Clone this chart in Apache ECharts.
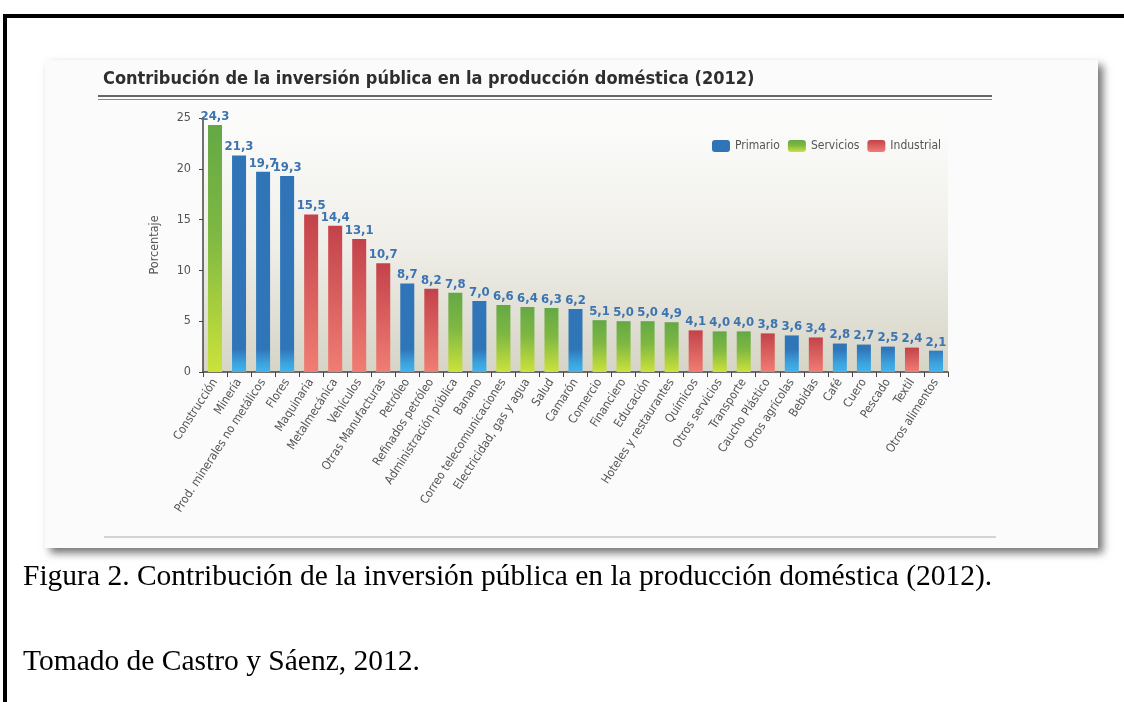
<!DOCTYPE html>
<html>
<head>
<meta charset="utf-8">
<script src="https://cdn.jsdelivr.net/npm/echarts@6/dist/echarts.min.js"></script>
<style>
html,body{margin:0;padding:0;background:#ffffff;}
#c{width:1124px;height:702px;}
</style>
</head>
<body>
<div id="c"></div>
<script>
var categories = ["Construcción","Minería","Prod. minerales no metálicos","Flores","Maquinaria","Metalmecánica","Vehículos","Otras Manufacturas","Petróleo","Refinados petróleo","Administración pública","Banano","Correo telecomunicaciones","Electricidad, gas y agua","Salud","Camarón","Comercio","Financiero","Educación","Hoteles y restaurantes","Químicos","Otros servicios","Transporte","Caucho Plástico","Otros agrícolas","Bebidas","Café","Cuero","Pescado","Textil","Otros alimentos"];
var values = [24.3,21.3,19.7,19.3,15.5,14.4,13.1,10.7,8.7,8.2,7.8,7.0,6.6,6.4,6.3,6.2,5.1,5.0,5.0,4.9,4.1,4.0,4.0,3.8,3.6,3.4,2.8,2.7,2.5,2.4,2.1];
var sectors = ["Servicios","Primario","Primario","Primario","Industrial","Industrial","Industrial","Industrial","Primario","Industrial","Servicios","Primario","Servicios","Servicios","Servicios","Primario","Servicios","Servicios","Servicios","Servicios","Industrial","Servicios","Servicios","Industrial","Primario","Industrial","Primario","Primario","Primario","Industrial","Primario"];
var sectorNames = ["Primario","Servicios","Industrial"];
var yTicks = [0,5,10,15,20,25];

var narrow = "'DejaVu Sans Condensed',sans-serif";
var GT = 118, GB = 372;

var fills = {
  Primario: {type:'linear',x:0,y:GT,x2:0,y2:GB,global:true,colorStops:[{offset:0,color:'#2f74b7'},{offset:0.91,color:'#2f76b9'},{offset:0.965,color:'#3ba2de'},{offset:1,color:'#45b3ec'}]},
  Servicios: {type:'linear',x:0,y:0,x2:0,y2:1,colorStops:[{offset:0,color:'#64a845'},{offset:0.45,color:'#7fb842'},{offset:1,color:'#cbe23a'}]},
  Industrial: {type:'linear',x:0,y:0,x2:0,y2:1,colorStops:[{offset:0,color:'#c3424a'},{offset:1,color:'#f07d73'}]}
};

var series = sectorNames.map(function(s){
  return {
    name: s,
    type: 'bar',
    stack: 'all',
    barWidth: 14,
    itemStyle: {color: fills[s]},
    label: {
      show: true, position: 'top', distance: 2,
      color: '#3b74b1', fontWeight: 'bold', fontSize: 13, fontFamily: narrow,
      formatter: function(p){ return p.value.toFixed(1).replace('.', ','); }
    },
    data: values.map(function(v,i){ return sectors[i] === s ? v : '-'; })
  };
});

var serif = "'Liberation Serif','Times New Roman',serif";
var chart = echarts.init(document.getElementById('c'));
chart.setOption({
  animation: false,
  backgroundColor: '#ffffff',
  graphic: [
    {type:'rect', z:-10, shape:{x:45,y:60,width:1053,height:488}, style:{fill:'#fbfbfb', shadowBlur:8, shadowOffsetX:5, shadowOffsetY:5, shadowColor:'rgba(0,0,0,0.55)'}},
    {type:'line', z:-5, shape:{x1:98,y1:96,x2:992,y2:96}, style:{stroke:'#666', lineWidth:2}},
    {type:'line', z:-5, shape:{x1:98,y1:99.5,x2:992,y2:99.5}, style:{stroke:'#888', lineWidth:1}},
    {type:'line', z:-5, shape:{x1:104,y1:537,x2:996,y2:537}, style:{stroke:'#d4d4d4', lineWidth:2}},
    {type:'text', x:103, y:70, style:{text:'Contribución de la inversión pública en la producción doméstica (2012)', fill:'#2e2e2e', font:"bold 18px 'DejaVu Sans Condensed',sans-serif"}},
    {type:'text', x:23, y:562, style:{text:'Figura 2. Contribución de la inversión pública en la producción doméstica (2012).', fill:'#000', font:"29.5px " + serif}},
    {type:'text', x:23, y:647, style:{text:'Tomado de Castro y Sáenz, 2012.', fill:'#000', font:"29.5px " + serif}},
    {type:'rect', shape:{x:3,y:14,width:1121,height:4}, style:{fill:'#000'}},
    {type:'rect', shape:{x:3,y:14,width:4,height:688}, style:{fill:'#000'}}
  ],
  legend: {
    right: 178, top: 135,
    itemWidth: 18, itemHeight: 12, itemGap: 8,
    textStyle: {color:'#555', fontSize:12, fontFamily: narrow},
    data: sectorNames
  },
  grid: {
    left: 203, right: 176, top: GT, bottom: 702 - GB,
    show: true, borderWidth: 0,
    backgroundColor: {type:'linear',x:0,y:0,x2:0,y2:1,colorStops:[{offset:0,color:'#fcfcfb'},{offset:0.5,color:'#efeee8'},{offset:1,color:'#d6d4c6'}]}
  },
  xAxis: {
    type: 'category',
    data: categories,
    axisLine: {lineStyle:{color:'#444', width:1.5}},
    axisTick: {show:true, length:5, lineStyle:{color:'#444'}},
    axisLabel: {rotate: 57, color:'#555', fontSize:12, fontFamily: narrow, interval:0, margin:8}
  },
  yAxis: {
    type: 'value', min: 0, max: 25, interval: 5,
    name: 'Porcentaje', nameLocation: 'middle', nameGap: 42,
    nameTextStyle: {color:'#555', fontSize:12.5, fontFamily: narrow},
    axisLine: {show:true, lineStyle:{color:'#444', width:1.5}},
    axisTick: {show:true, length:4, lineStyle:{color:'#444'}},
    splitLine: {show:false},
    axisLabel: {color:'#555', fontSize:12.5, fontFamily: narrow, margin:12,
      formatter: function(v){ return yTicks.indexOf(v) >= 0 ? String(v) : ''; }}
  },
  series: series
});
</script>
</body>
</html>
